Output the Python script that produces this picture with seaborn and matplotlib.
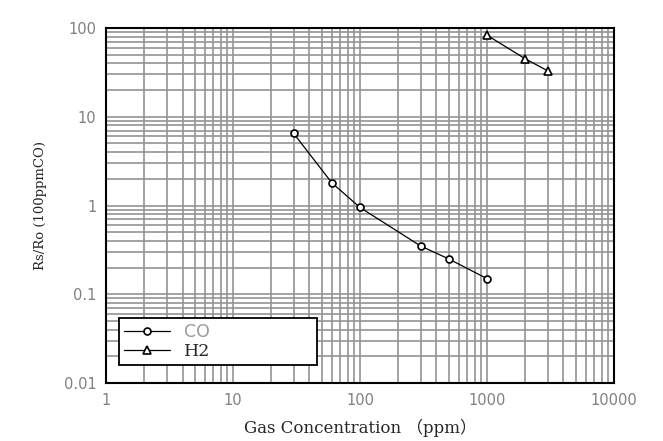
import numpy as np
import pandas as pd
import matplotlib
matplotlib.use("Agg")
import matplotlib.pyplot as plt
from matplotlib.ticker import LogLocator, FuncFormatter, NullFormatter
import seaborn as sns

co_ppm = [30, 60, 100, 300, 500, 1000]
co_ratio = [6.5, 1.8, 0.95, 0.35, 0.25, 0.15]
h2_ppm = [1000, 2000, 3000]
h2_ratio = [83, 45, 33]

co = pd.DataFrame({"ppm": co_ppm, "ratio": co_ratio, "gas": "CO"})
h2 = pd.DataFrame({"ppm": h2_ppm, "ratio": h2_ratio, "gas": "H2"})

sns.set_style("white")
plt.rcParams['font.family'] = ['DejaVu Sans', 'Noto Sans CJK SC']

fig = plt.figure(figsize=(6.63, 4.41), dpi=100)
ax = fig.add_axes([0.160, 0.1315, 0.766, 0.805])

sns.lineplot(data=co, x="ppm", y="ratio", ax=ax, color="black", lw=0.9,
             marker="o", markersize=5, markerfacecolor="white",
             markeredgecolor="black", markeredgewidth=1.2, label="CO")
sns.lineplot(data=h2, x="ppm", y="ratio", ax=ax, color="black", lw=0.9,
             marker="^", markersize=6, markerfacecolor="white",
             markeredgecolor="black", markeredgewidth=1.2, label="H2")

ax.set_xscale("log")
ax.set_yscale("log")
ax.set_xlim(1, 10000)
ax.set_ylim(0.01, 100)

ax.xaxis.set_major_locator(LogLocator(base=10, numticks=10))
ax.yaxis.set_major_locator(LogLocator(base=10, numticks=10))
ax.xaxis.set_minor_locator(LogLocator(base=10, subs=np.arange(2, 10), numticks=20))
ax.yaxis.set_minor_locator(LogLocator(base=10, subs=np.arange(2, 10), numticks=20))
fmt = FuncFormatter(lambda v, p: "%g" % v)
ax.xaxis.set_major_formatter(fmt)
ax.yaxis.set_major_formatter(fmt)
ax.xaxis.set_minor_formatter(NullFormatter())
ax.yaxis.set_minor_formatter(NullFormatter())

ax.grid(True, which="both", color="#949494", lw=1.2)
ax.set_axisbelow(True)
ax.tick_params(which="both", length=0, labelsize=10.5, labelcolor="#808080", pad=7)
for s in ax.spines.values():
    s.set_color("black")
    s.set_linewidth(1.5)

ax.set_xlabel("Gas Concentration （ppm）", fontsize=12,
              family=['DejaVu Serif', 'Noto Sans CJK SC'], labelpad=8)
ax.set_ylabel("Rs/Ro (100ppmCO)", fontsize=9.5, family=['DejaVu Serif'], labelpad=12)

leg = ax.legend(loc="lower left", bbox_to_anchor=(0.026, 0.05, 0.39, 0.153),
                mode="expand", frameon=True, fancybox=False,
                handlelength=2.6, borderpad=0.3, labelspacing=0.1,
                borderaxespad=0, prop={'family': 'DejaVu Serif', 'size': 12.5})
leg.get_frame().set_edgecolor("black")
leg.get_frame().set_linewidth(1.3)
leg.get_frame().set_alpha(1)
leg.get_texts()[0].set_color("#9a9a9a")
leg.get_texts()[0].set_family("DejaVu Sans")

fig.savefig("out.png", dpi=100)
